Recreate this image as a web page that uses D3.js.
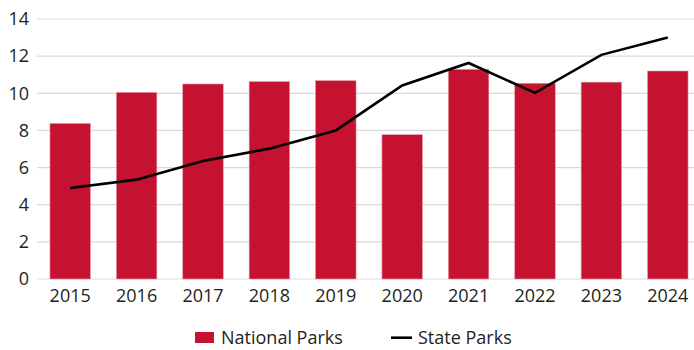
<!DOCTYPE html>
<html>
<head>
<meta charset="utf-8">
<script src="https://cdn.jsdelivr.net/npm/d3@7"></script>
<style>
  html, body { margin: 0; padding: 0; background: #fff; }
  svg { display: block; }
  text { font-family: "Open Sans", "Noto Sans", sans-serif; fill: #231f20; }
</style>
</head>
<body>
<svg id="chart" width="694" height="350"></svg>
<script>
// Visitors by year (millions)
const years = ["2015", "2016", "2017", "2018", "2019", "2020", "2021", "2022", "2023", "2024"];
const nationalParks = [8.38, 10.05, 10.5, 10.63, 10.68, 7.77, 11.29, 10.54, 10.6, 11.2];
const stateParks = [4.9, 5.35, 6.35, 7.02, 8.0, 10.42, 11.63, 10.02, 12.07, 13.0];
const yTicks = [0, 2, 4, 6, 8, 10, 12, 14];
const seriesNames = ["National Parks", "State Parks"];

const barColor = "#c41230";
const svg = d3.select("#chart");

const x = d3.scaleBand().domain(years).range([37, 701]).paddingInner(0.39).paddingOuter(0.195);
const y = d3.scaleLinear().domain([0, 14]).range([279, 19]);

// Horizontal gridlines
svg.append("g")
  .selectAll("line")
  .data(yTicks)
  .join("line")
  .attr("x1", 37).attr("x2", 694)
  .attr("y1", d => y(d)).attr("y2", d => y(d))
  .attr("stroke", "#d9d9d9").attr("stroke-width", 1.2);

// Y axis labels
const yAxis = svg.append("g")
  .attr("transform", "translate(29,0)")
  .call(d3.axisLeft(y).tickValues(yTicks).tickSize(0).tickPadding(0).tickFormat(d3.format("d")));
yAxis.select(".domain").remove();
yAxis.selectAll("text")
  .attr("font-size", 18)
  .attr("font-family", "'Open Sans', 'Noto Sans', sans-serif")
  .attr("fill", "#231f20");

// Bars
svg.append("g")
  .selectAll("rect")
  .data(years)
  .join("rect")
  .attr("x", d => x(d))
  .attr("width", x.bandwidth())
  .attr("y", (d, i) => y(nationalParks[i]))
  .attr("height", (d, i) => y(0) - y(nationalParks[i]))
  .attr("fill", barColor)
  .attr("stroke", "#e59aa6")
  .attr("stroke-width", 0.6);

// Line series
const line = d3.line()
  .x((d, i) => x(years[i]) + x.bandwidth() / 2)
  .y(d => y(d));
svg.append("path")
  .datum(stateParks)
  .attr("d", line)
  .attr("fill", "none")
  .attr("stroke", "#000")
  .attr("stroke-width", 2.6)
  .attr("stroke-linejoin", "miter");

// X axis labels
const xAxis = svg.append("g")
  .attr("transform", "translate(0,289)")
  .call(d3.axisBottom(x).tickSize(0).tickPadding(0));
xAxis.select(".domain").remove();
xAxis.selectAll("text")
  .attr("font-size", 18)
  .attr("font-family", "'Open Sans', 'Noto Sans', sans-serif")
  .attr("fill", "#231f20")
  .attr("dy", "0.71em");

// Legend
const legend = svg.append("g");
legend.append("rect")
  .attr("x", 195).attr("y", 332).attr("width", 19).attr("height", 11)
  .attr("fill", barColor);
legend.append("text")
  .attr("x", 221).attr("y", 344)
  .attr("font-size", 18)
  .text(seriesNames[0]);
legend.append("line")
  .attr("x1", 391).attr("x2", 412).attr("y1", 337.7).attr("y2", 337.7)
  .attr("stroke", "#000").attr("stroke-width", 2.6);
legend.append("text")
  .attr("x", 418).attr("y", 344)
  .attr("font-size", 18)
  .text(seriesNames[1]);
</script>
</body>
</html>
